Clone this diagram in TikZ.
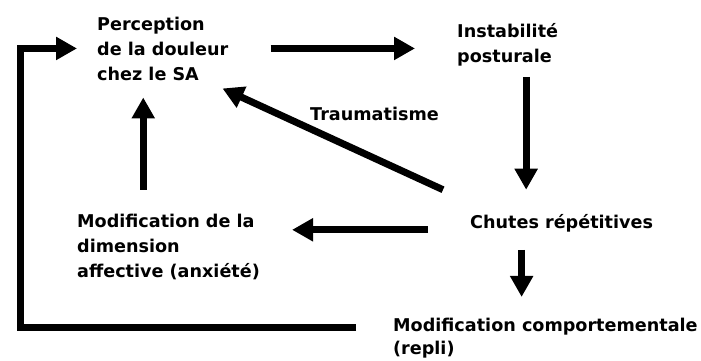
\documentclass[tikz,border=0pt]{standalone}
\usepackage{fontspec}
\setmainfont{DejaVu Sans}
\usetikzlibrary{arrows.meta}

\tikzset{
  texte/.style={inner sep=0pt, align=left, anchor=base west, font=\bfseries\fontsize{17.6}{25}\selectfont},
  fleche/.style={line width=7pt, -{Triangle[length=21pt,width=22pt]}},
}

\begin{document}
\begin{tikzpicture}[x=1pt,y=-1pt]
  \useasboundingbox (0,0) rectangle (701,360);
  \node[texte] (percep) at (97,80) {Perception\\de la douleur\\chez le SA};
  \node[texte] (instab) at (457,62) {Instabilité\\posturale};
  \node[texte] (chutes) at (470,228) {Chutes répétitives};
  \node[texte] (affect) at (77,277) {Modification de la\\dimension\\affective (anxiété)};
  \node[texte, font=\bfseries\fontsize{17.6}{23}\selectfont] (comport) at (393,354) {Modification comportementale\\(repli)};
  \node[texte] (trauma) at (310,120) {Traumatisme};

  \draw[fleche, shorten <=42pt, shorten >=42pt] (percep.east) -- (percep.east -| instab.west);
  \draw[fleche, shorten <=11pt, shorten >=24pt] ([xshift=18.5pt]instab.south) -- ([xshift=18.5pt]instab.south |- chutes.north);
  \draw[fleche, shorten <=18pt, shorten >=20.5pt] ([xshift=-40pt]chutes.south) -- ([xshift=-40pt]chutes.south |- comport.north);
  \draw[fleche, shorten <=42pt, shorten >=32pt] ([yshift=-7pt]chutes.west) -- ([yshift=-7pt]chutes.west -| affect.east);
  \draw[fleche, shorten <=23.5pt, shorten >=17pt] ([xshift=-19.5pt]percep.south |- affect.north) -- ([xshift=-19.5pt]percep.south);
  \draw[fleche] ([shift={(-27,-24)}]chutes.north west) -- ([shift={(-6,8)}]percep.south east);
  \draw[fleche, shorten >=20pt] ([shift={(-37,-10.6)}]comport.west) -| ([xshift=-77pt]percep.west) -- (percep.west);
\end{tikzpicture}
\end{document}
